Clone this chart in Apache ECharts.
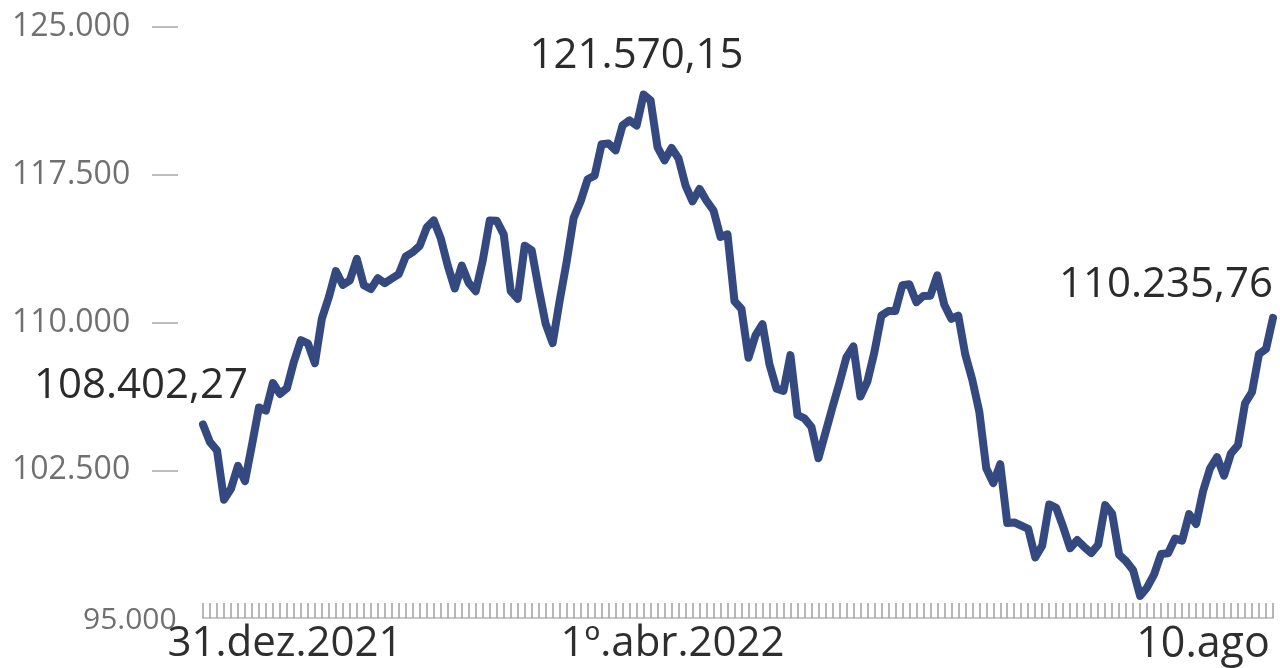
<!DOCTYPE html>
<html>
<head>
<meta charset="utf-8">
<script src="https://cdn.jsdelivr.net/npm/echarts@6/dist/echarts.min.js"></script>
<style>
html,body{margin:0;padding:0;background:#fff;}
#chart{width:1280px;height:668px;}
</style>
</head>
<body>
<div id="chart"></div>
<script>
// Trading days (categories)
const categories = [
 '2021-12-30',
 '2022-01-03','2022-01-04','2022-01-05','2022-01-06','2022-01-07','2022-01-10','2022-01-11','2022-01-12','2022-01-13','2022-01-14','2022-01-17','2022-01-18','2022-01-19','2022-01-20','2022-01-21','2022-01-24','2022-01-25','2022-01-26','2022-01-27','2022-01-28','2022-01-31',
 '2022-02-01','2022-02-02','2022-02-03','2022-02-04','2022-02-07','2022-02-08','2022-02-09','2022-02-10','2022-02-11','2022-02-14','2022-02-15','2022-02-16','2022-02-17','2022-02-18','2022-02-21','2022-02-22','2022-02-23','2022-02-24','2022-02-25',
 '2022-03-02','2022-03-03','2022-03-04','2022-03-07','2022-03-08','2022-03-09','2022-03-10','2022-03-11','2022-03-14','2022-03-15','2022-03-16','2022-03-17','2022-03-18','2022-03-21','2022-03-22','2022-03-23','2022-03-24','2022-03-25','2022-03-28','2022-03-29','2022-03-30','2022-03-31',
 '2022-04-01','2022-04-04','2022-04-05','2022-04-06','2022-04-07','2022-04-08','2022-04-11','2022-04-12','2022-04-13','2022-04-14','2022-04-18','2022-04-19','2022-04-20','2022-04-22','2022-04-25','2022-04-26','2022-04-27','2022-04-28','2022-04-29',
 '2022-05-02','2022-05-03','2022-05-04','2022-05-05','2022-05-06','2022-05-09','2022-05-10','2022-05-11','2022-05-12','2022-05-13','2022-05-16','2022-05-17','2022-05-18','2022-05-19','2022-05-20','2022-05-23','2022-05-24','2022-05-25','2022-05-26','2022-05-27','2022-05-30','2022-05-31',
 '2022-06-01','2022-06-02','2022-06-03','2022-06-06','2022-06-07','2022-06-08','2022-06-09','2022-06-10','2022-06-13','2022-06-14','2022-06-15','2022-06-17','2022-06-20','2022-06-21','2022-06-22','2022-06-23','2022-06-24','2022-06-27','2022-06-28','2022-06-29','2022-06-30',
 '2022-07-01','2022-07-04','2022-07-05','2022-07-06','2022-07-07','2022-07-08','2022-07-11','2022-07-12','2022-07-13','2022-07-14','2022-07-15','2022-07-18','2022-07-19','2022-07-20','2022-07-21','2022-07-22','2022-07-25','2022-07-26','2022-07-27','2022-07-28','2022-07-29',
 '2022-08-01','2022-08-02','2022-08-03','2022-08-04','2022-08-05','2022-08-08','2022-08-09','2022-08-10'
];

// Index closing values (points)
const values = [
 104822,
 103922,103514,101006,101561,102719,101945,103779,105686,105530,106928,106374,106668,108013,109102,108942,107937,110204,111289,112612,111910,112143,
 113228,111894,111696,112245,111996,112234,112461,113359,113572,113899,114828,115181,114270,112880,111725,112891,112007,111592,113142,
 115174,115166,114474,111593,111203,113900,113663,111713,109928,108959,111112,113076,115311,116155,117272,117457,119052,119081,118738,120014,120260,119999,
 121570,121279,118885,118228,118862,118322,116953,116147,116782,116182,115687,114345,114474,111078,110685,108213,109349,109919,107876,
 106639,106528,108344,105304,105134,104700,103110,104397,105687,106924,108233,108789,106247,107005,108488,110345,110581,110580,111890,111942,111032,111351,
 111360,112393,110900,110190,110350,108368,107094,105481,102598,101850,102807,99824,99853,99685,99522,98080,98672,100764,100591,99622,98541,
 98954,98609,98294,98719,100730,100289,98212,97881,97425,96121,96551,97212,98245,98287,99033,98925,100270,99772,101438,102597,103165,
 102225,103362,103775,105892,106472,108402,108651,110236
];

// Y-axis ticks
const yTicks = [95000, 102500, 110000, 117500, 125000];
const yDashTicks = [102500, 110000, 117500, 125000];

// X-axis tick labels
const xLabelDates = ['2021-12-30', '2022-04-01', '2022-08-10'];
const xLabelTexts = ['31.dez.2021', '1º.abr.2022', '10.ago'];

// Annotations
const annotDates = ['2021-12-30', '2022-04-01', '2022-08-10'];
const annotTexts = ['108.402,27', '121.570,15', '110.235,76'];

const fmtThousands = v => String(v).replace(/\B(?=(\d{3})+(?!\d))/g, '.');
const annotOffsets = [[-62, -38], [-7, -39], [-107, -33]];
const xLabelRich = ['l0', 'l1', 'l2'];

const chart = echarts.init(document.getElementById('chart'));
const FONT = '"Open Sans", "Noto Sans", sans-serif';

chart.setOption({
  backgroundColor: '#ffffff',
  animation: false,
  grid: {left: 203, right: 7, top: 27, bottom: 50, containLabel: false},
  xAxis: {
    type: 'category',
    data: categories,
    boundaryGap: false,
    axisLine: {show: true, lineStyle: {color: '#c8c8c8', width: 2}},
    axisTick: {show: true, interval: 0, inside: true, length: 15, lineStyle: {color: '#a0a0a0', width: 1.5}},
    axisLabel: {
      show: true,
      interval: (idx, val) => xLabelDates.indexOf(val) >= 0,
      margin: 5,
      color: '#2e2e2e',
      fontFamily: FONT,
      fontSize: 42,
      hideOverlap: false,
      formatter: val => {
        const i = xLabelDates.indexOf(val);
        return i >= 0 ? '{' + xLabelRich[i] + '|' + xLabelTexts[i] + '}' : '';
      },
      rich: {
        l0: {fontFamily: FONT, fontSize: 42, color: '#2e2e2e', padding: [0, 0, 0, 164]},
        l1: {fontFamily: FONT, fontSize: 42, color: '#2e2e2e', padding: [0, 0, 0, 58]},
        l2: {fontFamily: FONT, fontSize: 43, color: '#2e2e2e', padding: [0, 140, 0, 0]}
      }
    },
    splitLine: {show: false}
  },
  yAxis: {
    type: 'value',
    min: yTicks[0],
    max: yTicks[yTicks.length - 1],
    interval: 7500,
    offset: 25,
    axisLine: {show: false},
    axisTick: {show: true, length: 26, customValues: yDashTicks, lineStyle: {color: '#bdbdbd', width: 2}},
    axisLabel: {
      show: true,
      customValues: yTicks,
      align: 'left',
      margin: 166,
      color: '#707070',
      fontFamily: FONT,
      fontSize: 32,
      formatter: v => (v === yTicks[0] ? '{m|' + fmtThousands(v) + '}' : '{n|' + fmtThousands(v) + '}'),
      rich: {
        n: {fontFamily: FONT, fontSize: 32, color: '#707070'},
        m: {fontFamily: FONT, fontSize: 30, color: '#707070', padding: [4, 0, 0, 71]}
      }
    },
    splitLine: {show: false}
  },
  series: [{
    type: 'line',
    data: values,
    symbol: 'none',
    smooth: false,
    clip: false,
    lineStyle: {color: '#34497f', width: 8, cap: 'round', join: 'round'},
    markPoint: {
      symbol: 'circle',
      symbolSize: 1,
      itemStyle: {color: 'rgba(0,0,0,0)'},
      silent: true,
      data: annotDates.map((d, i) => ({
        coord: [d, values[categories.indexOf(d)]],
        label: {
          show: true,
          position: 'inside',
          offset: annotOffsets[i],
          formatter: annotTexts[i],
          color: '#2b2b2b',
          fontFamily: FONT,
          fontSize: 42
        }
      }))
    }
  }]
});
</script>
</body>
</html>
